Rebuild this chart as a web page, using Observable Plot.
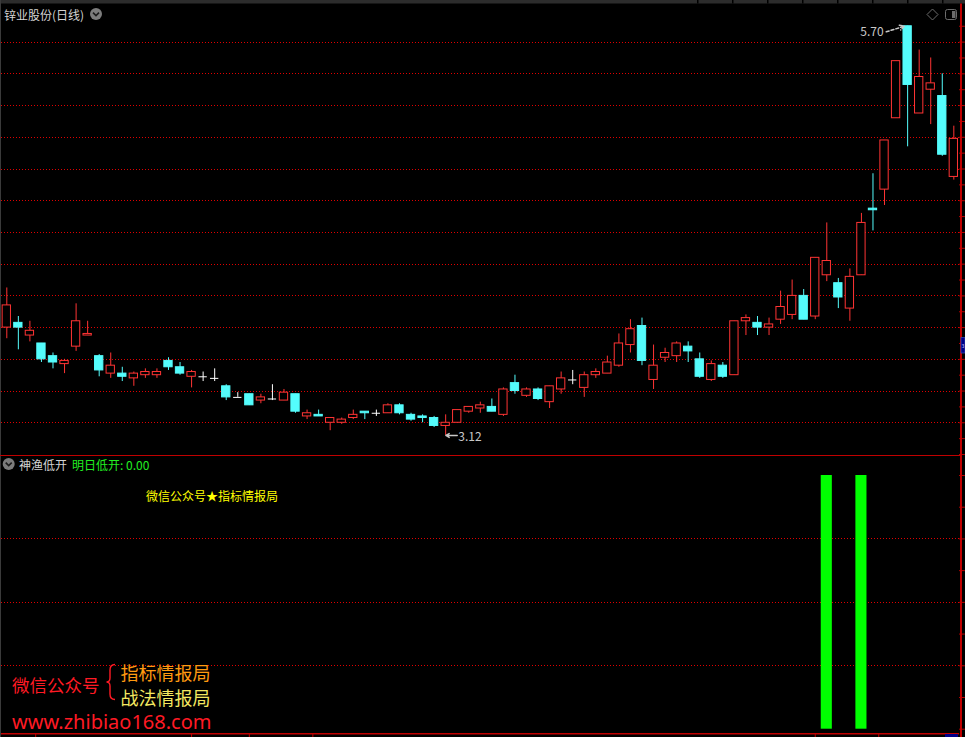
<!DOCTYPE html>
<html><head><meta charset="utf-8">
<script src="https://cdn.jsdelivr.net/npm/d3@7"></script>
<script src="https://cdn.jsdelivr.net/npm/@observablehq/plot@0.6"></script>
<style>
body{margin:0;background:#000;}
#wrap{position:relative;width:965px;height:737px;background:#000;overflow:hidden;font-family:"Noto Sans CJK SC","Noto Sans",sans-serif;}
.abs{position:absolute;}
</style></head>
<body><div id="wrap">
<div class="abs" id="topPlot" style="left:0;top:0;"></div>
<div class="abs" id="botPlot" style="left:0;top:456px;"></div>
</div>
<script>
// ---- data (daily candles, 锌业股份) ----
const opens  = [3.80,3.83,3.75,3.70,3.62,3.57,3.68,3.75,3.62,3.51,3.51,3.48,3.50,3.50,3.59,3.55,3.49,3.49,3.48,3.43,
                3.36,3.38,3.34,3.35,3.34,3.38,3.24,3.25,3.20,3.20,3.23,3.27,3.26,3.26,3.31,3.25,3.24,3.23,3.18,3.20,
                3.27,3.29,3.30,3.25,3.45,3.37,3.41,3.33,3.41,3.47,3.42,3.50,3.51,3.56,3.69,3.81,3.47,3.61,3.62,3.68,
                3.60,3.47,3.56,3.50,3.84,3.83,3.80,3.85,3.88,4.00,3.87,4.13,4.08,3.92,4.13,4.55,4.67,5.12,5.70,5.15,
                5.30,5.26,4.75];
const highs  = [4.05,3.87,3.84,3.70,3.64,3.60,3.95,3.84,3.63,3.64,3.55,3.52,3.54,3.54,3.61,3.58,3.53,3.52,3.54,3.44,
                3.39,3.38,3.38,3.44,3.41,3.38,3.28,3.28,3.23,3.23,3.28,3.27,3.28,3.32,3.32,3.26,3.25,3.24,3.25,3.28,
                3.30,3.33,3.35,3.42,3.50,3.42,3.42,3.43,3.52,3.53,3.52,3.54,3.62,3.76,3.85,3.86,3.69,3.67,3.71,3.71,
                3.64,3.59,3.58,3.84,3.88,3.87,3.86,4.03,4.10,4.04,4.24,4.46,4.11,4.17,4.52,4.77,4.98,5.48,5.70,5.55,
                5.50,5.40,5.07];
const lows   = [3.73,3.66,3.71,3.58,3.54,3.51,3.65,3.75,3.49,3.48,3.46,3.43,3.48,3.48,3.53,3.50,3.42,3.46,3.46,3.34,
                3.36,3.31,3.32,3.34,3.34,3.26,3.22,3.24,3.15,3.19,3.22,3.22,3.24,3.26,3.25,3.21,3.20,3.17,3.12,3.20,
                3.26,3.26,3.27,3.24,3.38,3.36,3.34,3.29,3.38,3.44,3.36,3.48,3.51,3.55,3.64,3.56,3.41,3.58,3.58,3.58,
                3.48,3.46,3.48,3.50,3.75,3.75,3.75,3.82,3.85,3.85,3.85,4.09,3.92,3.84,4.13,4.41,4.57,5.12,4.94,5.15,
                5.08,4.88,4.73];
const closes = [3.94,3.80,3.78,3.60,3.58,3.59,3.84,3.76,3.53,3.56,3.49,3.51,3.52,3.52,3.55,3.51,3.52,3.49,3.48,3.36,
                3.36,3.31,3.36,3.35,3.39,3.27,3.26,3.24,3.23,3.22,3.25,3.26,3.26,3.31,3.26,3.22,3.23,3.18,3.20,3.28,
                3.30,3.31,3.27,3.41,3.40,3.41,3.35,3.43,3.48,3.47,3.50,3.52,3.58,3.70,3.79,3.59,3.56,3.64,3.70,3.65,
                3.49,3.57,3.49,3.84,3.86,3.80,3.82,3.93,4.00,3.85,4.24,4.22,3.99,4.12,4.46,4.54,4.98,5.48,5.33,5.38,
                5.34,4.89,4.99];
// 神渔低开 indicator (明日低开 signal)
const signal = opens.map(() => 0);
const signalOn = [71, 74];
signalOn.forEach(i => signal[i] = 1);
// price grid / axis ticks
const priceGrid = [3.2,3.4,3.6,3.8,4.0,4.2,4.4,4.6,4.8,5.0,5.2,5.4,5.6];
const priceTicks = d3.range(30, 58).map(v => v / 10);
const signalGrid = [0.25, 0.5, 0.75];
const signalTicks = d3.range(0, 9).map(k => k / 8);
const dateTicks = [2.5, 16, 21, 26.5, 70, 75.5];

// ---- styling ----
const RED = "#ff3434", CYAN = "#54fcfc", WHITE = "#ffffff", GRID = "#e00000", AXIS = "#c00000";
const FONT = '"Noto Sans CJK SC","Noto Sans",sans-serif';
const n = opens.length;
const bars = opens.map((o, i) => ({i, open: o, close: closes[i], high: highs[i], low: lows[i]}));
const colorOf = d => d.close > d.open ? RED : d.close < d.open ? CYAN : WHITE;
const xDom = [-0.5, n - 0.5];
const hw = 0.36;
const hi = d3.maxIndex(highs), lo = d3.minIndex(lows);
const dotted = {stroke: GRID, strokeDasharray: "1,2", shapeRendering: "crispEdges"};

const topChart = Plot.plot({
  width: 965, height: 456,
  marginTop: 9.9, marginBottom: 2, marginLeft: 0.525, marginRight: 5.9,
  style: {background: "#000", color: "#c8c8c8", fontFamily: FONT, fontSize: "12px", overflow: "visible"},
  x: {domain: xDom, axis: null},
  y: {domain: [3.0, 5.8], axis: null},
  color: {type: "identity"},
  marks: [
    Plot.ruleY(priceGrid, dotted),
    Plot.ruleY(priceTicks, {y: d => d, x1: n - 0.5, x2: n, stroke: AXIS}),
    Plot.ruleX(bars, {x: "i", y1: "low", y2: "high", stroke: colorOf}),
    Plot.rect(bars.filter(d => d.close !== d.open), {
      x1: d => d.i - hw, x2: d => d.i + hw, y1: "open", y2: "close",
      fill: d => d.close > d.open ? "#000" : CYAN, stroke: colorOf
    }),
    Plot.ruleY(bars.filter(d => d.close === d.open), {y: "close", x1: d => d.i - hw, x2: d => d.i + hw, stroke: WHITE}),
    Plot.arrow([hi], {x1: i => i - 1.85, y1: i => highs[i] - 0.035, x2: i => i - 0.3, y2: i => highs[i],
      stroke: "#c8c8c8", strokeDasharray: "3,2", headLength: 5, bend: 0}),
    Plot.text([hi], {x: i => i, y: i => highs[i], text: i => highs[i].toFixed(2), dx: -24, dy: 5.5, textAnchor: "end", fill: "#c8c8c8"}),
    Plot.arrow([lo], {x1: i => i + 1.0, y1: i => lows[i], x2: i => i + 0.02, y2: i => lows[i],
      stroke: "#c8c8c8", headLength: 5}),
    Plot.text([lo], {x: i => i + 1.1, y: i => lows[i], text: i => lows[i].toFixed(2), dy: 1.5, textAnchor: "start", fill: "#c8c8c8"})
  ]
});
document.getElementById("topPlot").appendChild(topChart);

const sig = signal.map((v, i) => ({i, v}));
const botChart = Plot.plot({
  width: 965, height: 281,
  marginTop: 19, marginBottom: 8.3, marginLeft: 0.525, marginRight: 5.9,
  style: {background: "#000", color: "#c8c8c8", fontFamily: FONT, fontSize: "12px", overflow: "visible"},
  x: {domain: xDom, axis: null},
  y: {domain: [0, 1], axis: null},
  marks: [
    Plot.ruleY(signalGrid, dotted),
    Plot.rect(sig.filter(d => d.v > 0), {x1: d => d.i - 0.48, x2: d => d.i + 0.48, y1: 0, y2: "v", fill: "#00ff00"}),
    Plot.ruleY(signalTicks, {y: d => d, x1: n - 0.5, x2: n, stroke: AXIS}),
    Plot.ruleY([-0.018], {stroke: AXIS, strokeWidth: 1.3, x1: -0.6, x2: n - 0.5}),
    Plot.ruleX(dateTicks, {x: d => d, y1: -0.018, y2: -0.04, stroke: AXIS})
  ]
});
document.getElementById("botPlot").appendChild(botChart);

// ---- chrome overlay (labels, icons, watermark) ----
const lastVal = signal[signal.length - 1].toFixed(2);
const ns = "http://www.w3.org/2000/svg";
const ov = document.createElementNS(ns, "svg");
ov.setAttribute("width", 965); ov.setAttribute("height", 737);
ov.setAttribute("class", "abs"); ov.style.left = "0"; ov.style.top = "0"; ov.style.fontFamily = FONT;
ov.innerHTML = `
  <rect x="0" y="0" width="965" height="3.5" fill="#2c2c2c"/>
  ${[697,732,767,802,837,872,907,942].map(x => `<rect x="${x}" y="0" width="1.5" height="3.5" fill="#000"/>`).join("")}
  <rect x="0" y="0" width="1" height="737" fill="#3a3a3a"/>
  <rect x="960" y="3.5" width="2" height="734" fill="${AXIS}"/>
  <rect x="0" y="455" width="962" height="1" fill="${AXIS}"/>
  <rect x="961" y="337.5" width="4" height="15.5" fill="#000088" stroke="#3344aa" stroke-width="0.8"/>
  <text x="961.6" y="345.5" font-size="5" fill="#c8c8ff" dominant-baseline="central">3</text>
  <rect x="945" y="734" width="13" height="3" fill="#000088"/>
  <text x="4" y="14.5" font-size="12" fill="#d4d4d4" dominant-baseline="central">锌业股份(日线)</text>
  <circle cx="96" cy="14" r="6" fill="#7c7c7c"/>
  <path d="M93,12.6 L96,15.6 L99,12.6" stroke="#1c1c1c" stroke-width="1.6" fill="none"/>
  <path d="M932.5,9 L938,14.5 L932.5,20 L927,14.5 Z" stroke="#6c6c6c" stroke-width="1" fill="none"/>
  <rect x="945.5" y="9.5" width="11" height="10" rx="2" stroke="#6c6c6c" stroke-width="1" fill="none"/>
  <rect x="952" y="11" width="3.5" height="7" fill="#6c6c6c"/>
  <circle cx="8.7" cy="464" r="6" fill="#7c7c7c"/>
  <path d="M5.7,462.6 L8.7,465.6 L11.7,462.6" stroke="#1c1c1c" stroke-width="1.6" fill="none"/>
  <text x="19" y="464.5" font-size="12" fill="#d4d4d4" dominant-baseline="central">神渔低开</text>
  <text x="72" y="464.5" font-size="12" fill="#22ee22" dominant-baseline="central">明日低开: ${lastVal}</text>
  <text x="146" y="495" font-size="12" fill="#ffff00" dominant-baseline="central">微信公众号★指标情报局</text>
  <text x="12" y="684" font-size="17.5" fill="#ff1a24" dominant-baseline="central">微信公众号</text>
  <path d="M115,664.5 Q110,664.5 110,670 L110,678 Q110,682 106.5,682 Q110,682 110,686 L110,694 Q110,699.5 115,699.5" stroke="#ff1a24" stroke-width="1.4" fill="none"/>
  <text x="120.5" y="672" font-size="18" fill="#ff9a10" dominant-baseline="central">指标情报局</text>
  <text x="120.5" y="697" font-size="18" fill="#f4e860" dominant-baseline="central">战法情报局</text>
  <text x="12" y="721" font-size="20" fill="#ff1a24" font-family="Noto Sans" dominant-baseline="central">www.zhibiao168.com</text>
`;
document.getElementById("wrap").appendChild(ov);
</script>
</body></html>
